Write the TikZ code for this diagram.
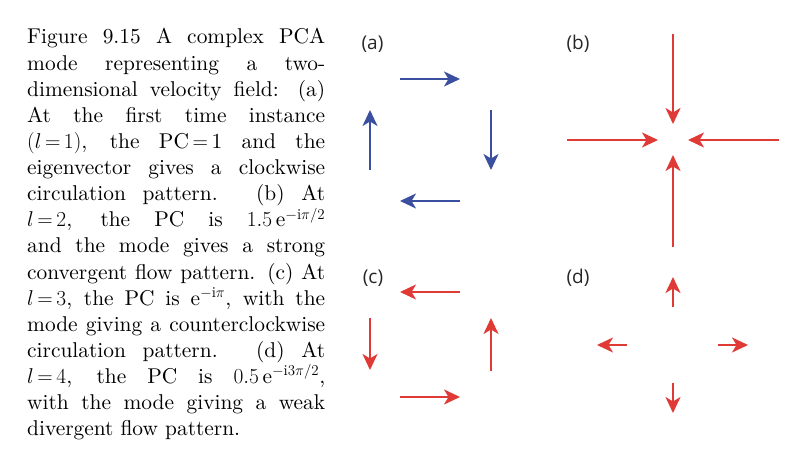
\RequirePackage{fix-cm}
\documentclass[tikz,border=0pt]{standalone}
\usepackage{fontspec}
\setmainfont{lmroman10-regular}[Extension=.otf,BoldFont=lmroman10-bold,ItalicFont=lmroman10-italic,BoldItalicFont=lmroman10-bolditalic]
\newfontfamily\labfont{Open Sans}
\usetikzlibrary{arrows.meta}
\definecolor{flowblue}{RGB}{59,79,160}
\definecolor{flowred}{RGB}{224,58,54}
\newcommand{\eqsp}{{\,=\,}}
\begin{document}
\begin{tikzpicture}[x=1pt,y=-1pt,
  flow/.style={line width=2.1pt,-{Stealth[length=16pt,width=15pt,inset=4.5pt]}},
  bluef/.style={flow,draw=flowblue},
  redf/.style={flow,draw=flowred},
  panellab/.style={font=\labfont\fontsize{19}{22}\selectfont,text=black!85,inner sep=0pt}]
\useasboundingbox (0,0) rectangle (796,462);
\node[anchor=north west,inner sep=0pt,text width=298pt,align=justify,
  font=\rmfamily\fontsize{21.4}{26.13}\selectfont] (cap) at (27,28.4)
{Figure 9.15 A complex PCA\linebreak
mode representing a two-\linebreak
dimensional velocity field: (a)\linebreak
At the first time instance\linebreak
$(l\eqsp 1)$, the PC$\eqsp$1 and the\linebreak
eigenvector gives a clockwise\linebreak
circulation pattern. (b) At\linebreak
$l\eqsp 2$, the PC is $1.5\,\mathrm{e}^{-\mathrm{i}\pi/2}$\linebreak
and the mode gives a strong\linebreak
convergent flow pattern. (c) At\linebreak
$l\eqsp 3$, the PC is $\mathrm{e}^{-\mathrm{i}\pi}$, with the\linebreak
mode giving a counterclockwise\linebreak
circulation pattern. (d) At\linebreak
$l\eqsp 4$, the PC is $0.5\,\mathrm{e}^{-\mathrm{i}3\pi/2}$,\linebreak
with the mode giving a weak\linebreak
divergent flow pattern.\par};
% labels
\node[panellab] (la) at (372.5,44) {(a)};
\node[panellab] (lb) at (578,44) {(b)};
\node[panellab] (lc) at (373,278) {(c)};
\node[panellab] (ld) at (578,278) {(d)};
% panel a
\coordinate (a1s) at (400,79);  \coordinate (a1e) at (460,79);
\coordinate (a2s) at (491,110); \coordinate (a2e) at (491,170);
\coordinate (a3s) at (460,201); \coordinate (a3e) at (400,201);
\coordinate (a4s) at (370,170); \coordinate (a4e) at (370,110);
\draw[bluef] (a1s) -- (a1e);
\draw[bluef] (a2s) -- (a2e);
\draw[bluef] (a3s) -- (a3e);
\draw[bluef] (a4s) -- (a4e);
% panel b
\coordinate (b1s) at (673,34);  \coordinate (b1e) at (673,124);
\coordinate (b2s) at (567,140); \coordinate (b2e) at (658,140);
\coordinate (b3s) at (779,140); \coordinate (b3e) at (688,140);
\coordinate (b4s) at (673,247); \coordinate (b4e) at (673,155);
\draw[redf] (b1s) -- (b1e);
\draw[redf] (b2s) -- (b2e);
\draw[redf] (b3s) -- (b3e);
\draw[redf] (b4s) -- (b4e);
% panel c
\coordinate (c1s) at (460,292); \coordinate (c1e) at (400,292);
\coordinate (c2s) at (370,318); \coordinate (c2e) at (370,370);
\coordinate (c3s) at (491,371); \coordinate (c3e) at (491,318);
\coordinate (c4s) at (400,397); \coordinate (c4e) at (460,397);
\draw[redf] (c1s) -- (c1e);
\draw[redf] (c2s) -- (c2e);
\draw[redf] (c3s) -- (c3e);
\draw[redf] (c4s) -- (c4e);
% panel d
\coordinate (d1s) at (673,307); \coordinate (d1e) at (673,277);
\coordinate (d2s) at (627,345); \coordinate (d2e) at (597,345);
\coordinate (d3s) at (718,345); \coordinate (d3e) at (748,345);
\coordinate (d4s) at (673,383); \coordinate (d4e) at (673,413);
\draw[redf] (d1s) -- (d1e);
\draw[redf] (d2s) -- (d2e);
\draw[redf] (d3s) -- (d3e);
\draw[redf] (d4s) -- (d4e);
\end{tikzpicture}
\end{document}
